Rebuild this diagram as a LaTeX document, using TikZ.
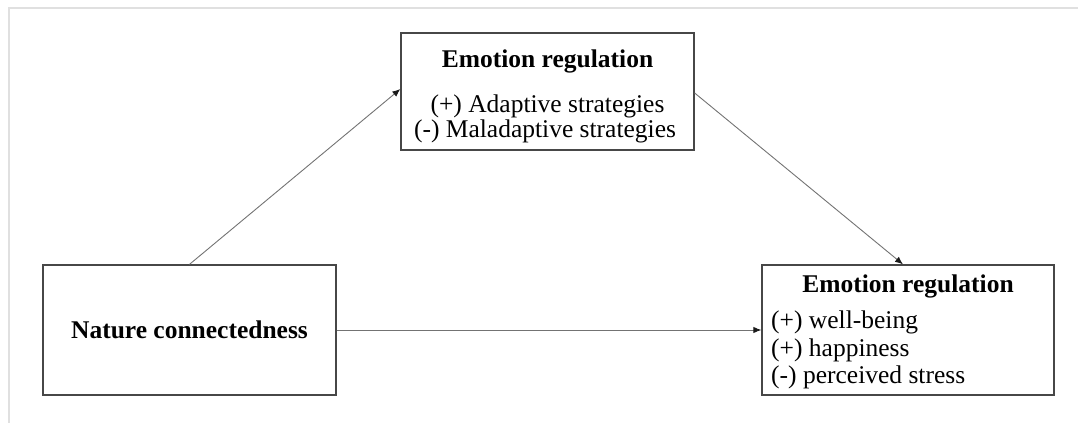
\documentclass[tikz,border=0pt]{standalone}
\usepackage{fontspec}
\setmainfont{Liberation Serif}
\usetikzlibrary{arrows.meta}
\begin{document}
\begin{tikzpicture}[x=1pt,y=-1pt,
  box/.style={draw=black!72,line width=1.3pt,rectangle,inner sep=0pt},
  label/.style={inner sep=0pt,font=\fontsize{25.5pt}{30pt}\selectfont},
  head/.style={label,font=\fontsize{25.5pt}{30pt}\selectfont\bfseries},
  link/.style={draw=black!55,line width=0.9pt,-{Latex[length=8pt,width=6.5pt,color=black!90]}},
  frame/.style={draw=black!12,line width=2pt}]
\useasboundingbox (0,0) rectangle (1078,423);
% page frame
\coordinate (ftr) at (1078,8);
\coordinate (ftl) at (9,8);
\coordinate (fbl) at (9,423);
\draw[frame] (ftr) -- (ftl) -- (fbl);
% boxes
\node[box,minimum width=293pt,minimum height=117pt] (er) at (547.5,91.5) {};
\node[box,minimum width=293pt,minimum height=130pt] (nc) at (189.5,330) {};
\node[box,minimum width=292pt,minimum height=130pt] (out) at (908,330) {};
% texts of the mediator box
\node[head,anchor=base] (erh) at (547.5,67) {Emotion regulation};
\node[label,anchor=base] (era) at (547.5,112) {(+) Adaptive strategies};
\node[label,anchor=base] (erm) at (545,137) {(-) Maladaptive strategies};
% predictor text
\node[head,anchor=base] (nct) at (189.5,338) {Nature connectedness};
% outcome texts
\node[head,anchor=base] (outh) at (908,292) {Emotion regulation};
\node[label,anchor=base west] (outa) at (771,328) {(+) well-being};
\node[label,anchor=base west] (outb) at (771,356) {(+) happiness};
\node[label,anchor=base west] (outc) at (771,383) {(-) perceived stress};
% paths
\draw[link] (nc.north) -- ([yshift=2.5pt]er.west);
\draw[link] ([yshift=-1.5pt]er.east) -- ([xshift=-5pt]out.north);
\draw[link] (nc.east) -- (out.west);
\end{tikzpicture}
\end{document}
